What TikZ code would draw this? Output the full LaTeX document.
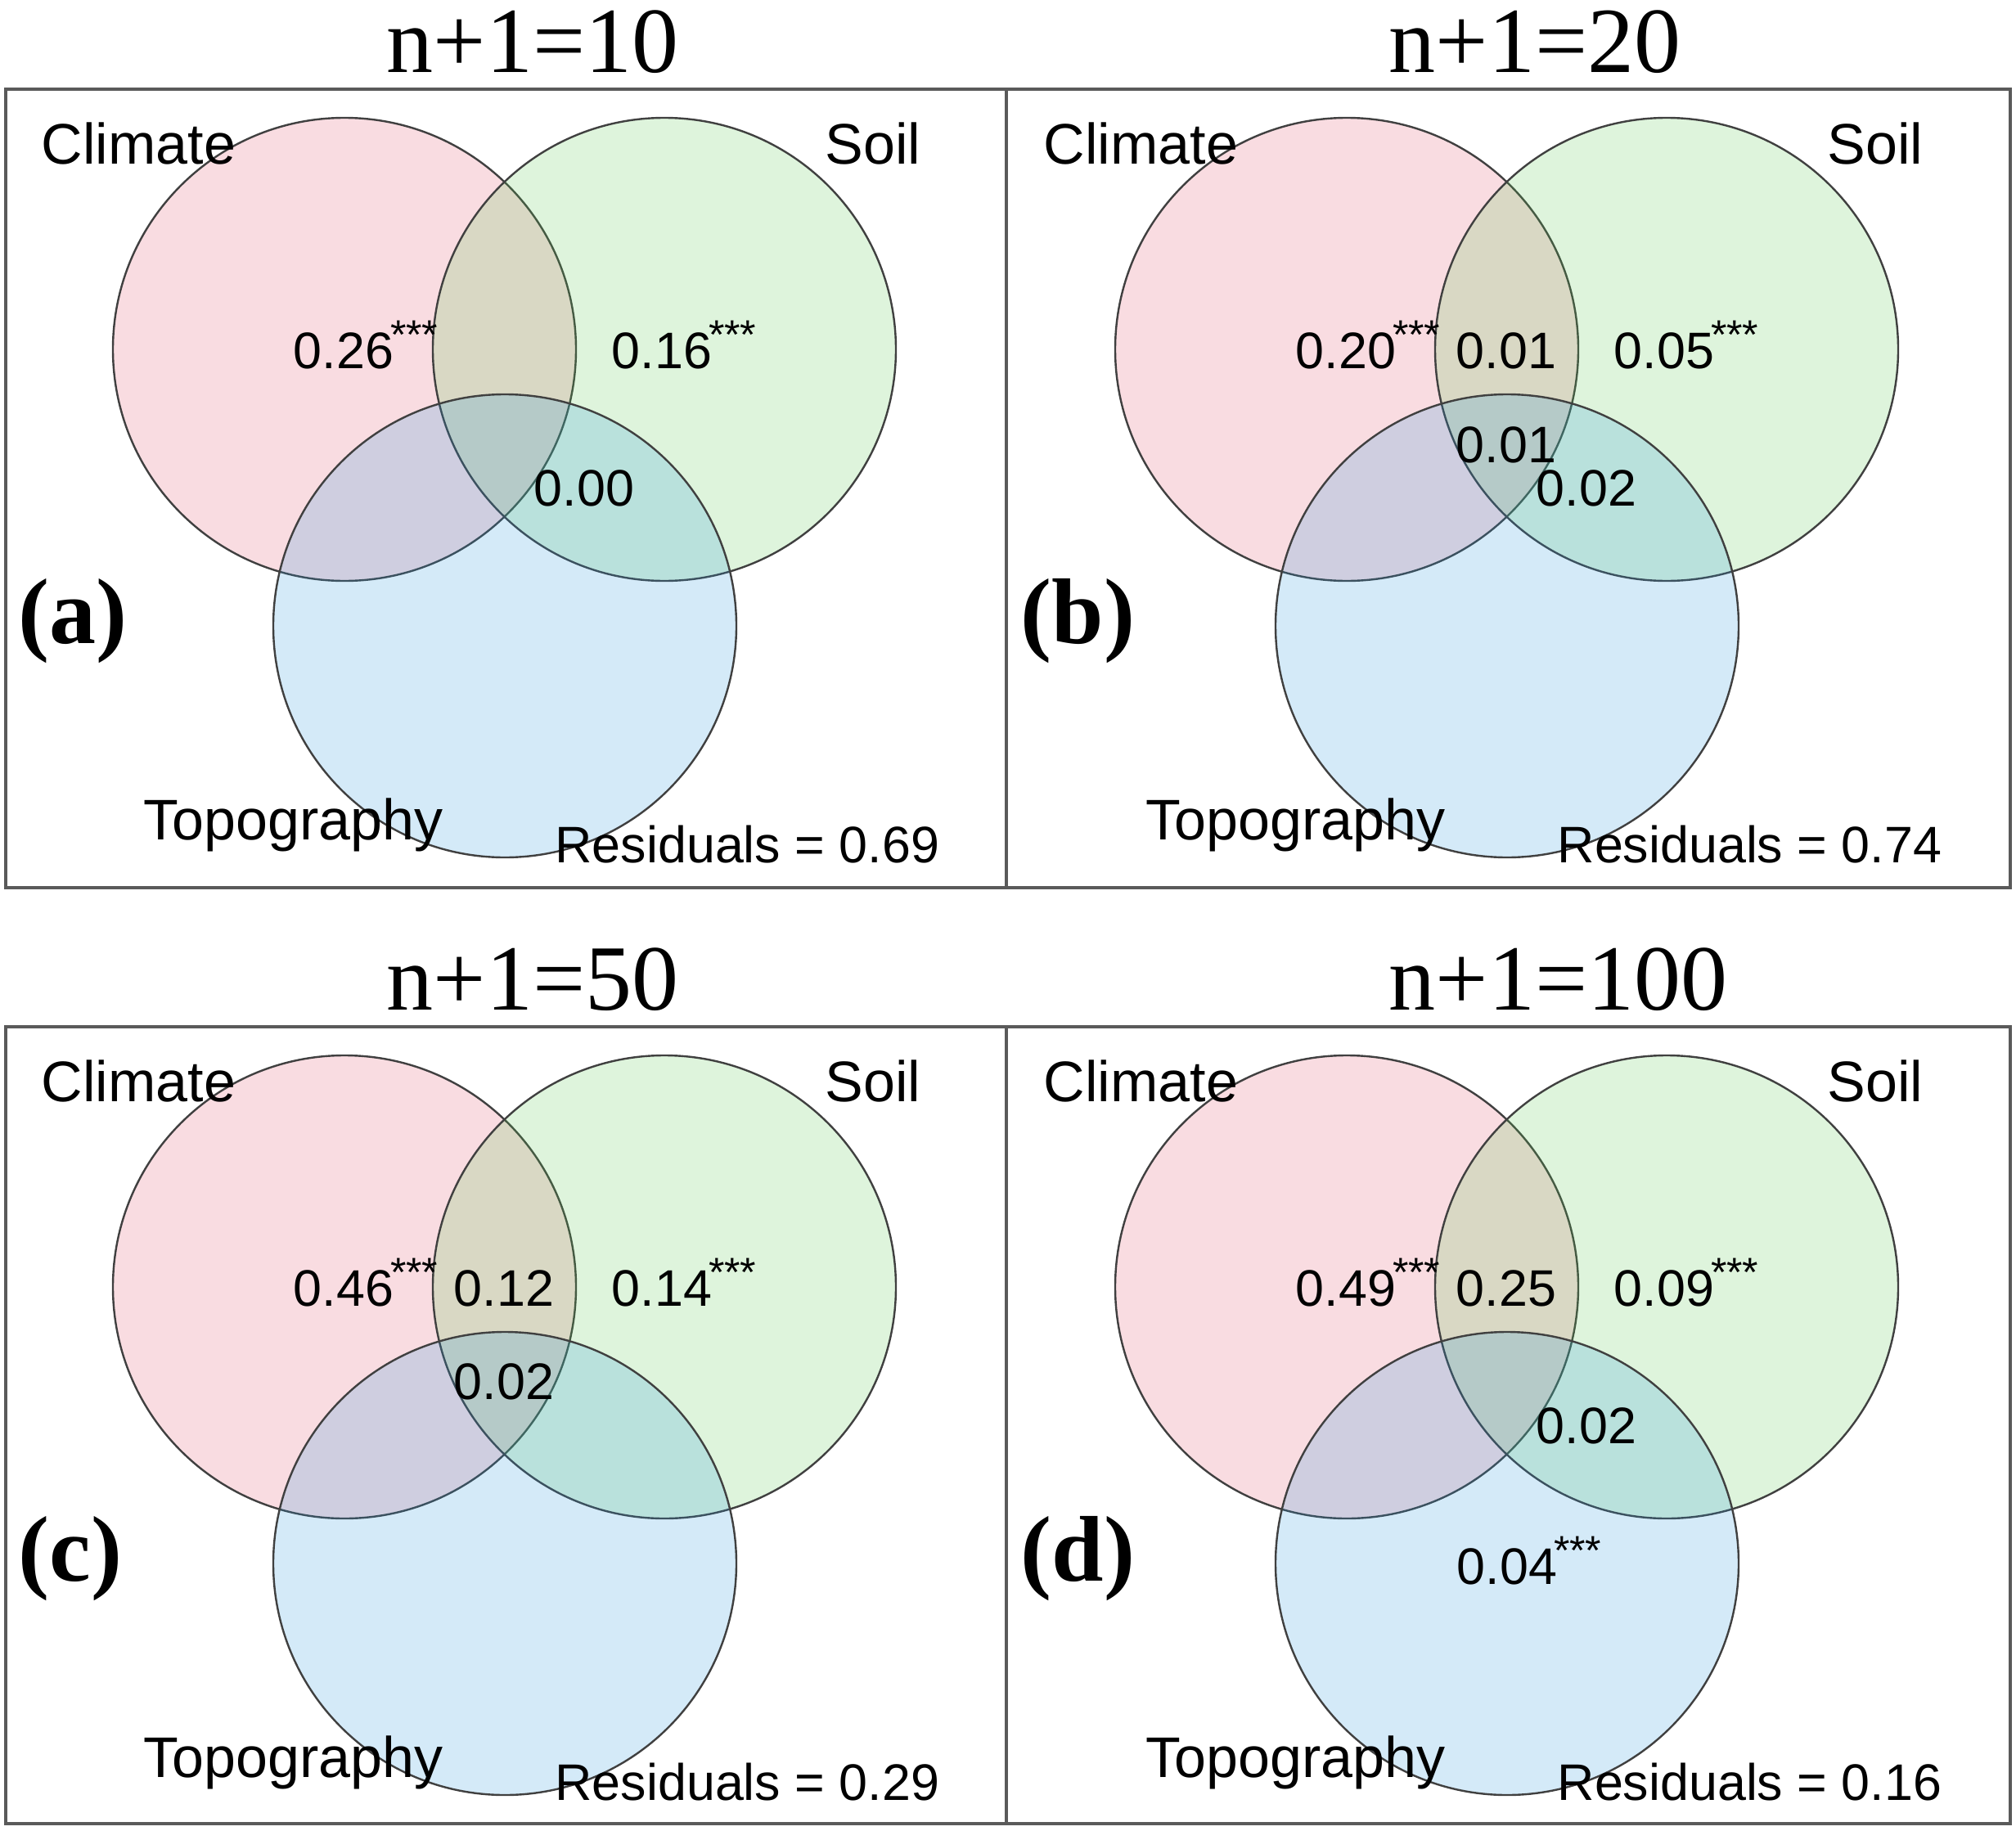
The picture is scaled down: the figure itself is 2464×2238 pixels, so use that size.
\documentclass[tikz,border=0pt]{standalone}
\usepackage{fontspec}
\usepackage{xcolor}
\usepackage{tikz}
\setmainfont{Liberation Serif}
\newfontfamily\arialfont{Liberation Sans}
\definecolor{CClim}{RGB}{225,80,105}
\definecolor{CSoil}{RGB}{89,200,80}
\definecolor{CTopo}{RGB}{40,150,220}
\definecolor{CFrame}{HTML}{5A5A5A}
\newcommand{\sig}{\kern-1pt\raisebox{6pt}{\fontsize{12.5}{12.5}\selectfont ***}}

\begin{document}
\begin{tikzpicture}[x=0.25pt,y=-0.25pt,inner sep=0pt,
  venn/.style={shape=circle, minimum size=141.5pt, draw=black!75, line width=0.6pt, fill opacity=0.2},
  lab/.style={font=\arialfont\fontsize{17.5}{19}\selectfont},
  num/.style={font=\arialfont\fontsize{15.7}{17}\selectfont},
  ttl/.style={font=\fontsize{28.5}{30}\selectfont},
  tag/.style={font=\bfseries\fontsize{28.5}{30}\selectfont}]
\useasboundingbox (0,0) rectangle (2464,2238);
\draw [CFrame, line width=1pt] (7,109) rectangle (1230,1085);
\draw [CFrame, line width=1pt] (1230,109) rectangle (2457,1085);
\draw [CFrame, line width=1pt] (7,1255) rectangle (1230,2229);
\draw [CFrame, line width=1pt] (1230,1255) rectangle (2457,2229);
% panel a
\node (a0) [venn, fill=CClim] at (421,427) {};
\node (a1) [venn, fill=CSoil] at (812,427) {};
\node (a2) [venn, fill=CTopo] at (617,765) {};
\node (a3) [lab, anchor=base west] at (50,200) {Climate};
\node (a4) [lab, anchor=base east] at (1126,200) {Soil};
\node (a5) [lab, anchor=base west] at (175,1026) {Topography};
\node (a6) [num, anchor=base east] at (1149,1054) {Residuals = 0.69};
\node (a7) [ttl, anchor=base west] at (472,88) {n+1=10};
\node (a8) [tag, anchor=base west] at (22,786) {(a)};
\node (a00) [num, anchor=base west] at (358,450) {0.26\sig};
\node (a11) [num, anchor=base west] at (747,450) {0.16\sig};
\node (a12) [num, anchor=base west] at (652,618) {0.00};
% panel b
\begin{scope}[shift={(1225,0)}]
\node (b0) [venn, fill=CClim] at (421,427) {};
\node (b1) [venn, fill=CSoil] at (812,427) {};
\node (b2) [venn, fill=CTopo] at (617,765) {};
\node (b3) [lab, anchor=base west] at (50,200) {Climate};
\node (b4) [lab, anchor=base east] at (1126,200) {Soil};
\node (b5) [lab, anchor=base west] at (175,1026) {Topography};
\node (b6) [num, anchor=base east] at (1149,1054) {Residuals = 0.74};
\node (b7) [ttl, anchor=base west] at (472,88) {n+1=20};
\node (b8) [tag, anchor=base west] at (22,786) {(b)};
\node (b00) [num, anchor=base west] at (358,450) {0.20\sig};
\node (b01) [num, anchor=base west] at (554,450) {0.01};
\node (b11) [num, anchor=base west] at (747,450) {0.05\sig};
\node (b012) [num, anchor=base west] at (554,565) {0.01};
\node (b12) [num, anchor=base west] at (652,618) {0.02};
\end{scope}
% panel c
\begin{scope}[shift={(0,1146)}]
\node (c0) [venn, fill=CClim] at (421,427) {};
\node (c1) [venn, fill=CSoil] at (812,427) {};
\node (c2) [venn, fill=CTopo] at (617,765) {};
\node (c3) [lab, anchor=base west] at (50,200) {Climate};
\node (c4) [lab, anchor=base east] at (1126,200) {Soil};
\node (c5) [lab, anchor=base west] at (175,1026) {Topography};
\node (c6) [num, anchor=base east] at (1149,1054) {Residuals = 0.29};
\node (c7) [ttl, anchor=base west] at (472,88) {n+1=50};
\node (c8) [tag, anchor=base west] at (22,786) {(c)};
\node (c00) [num, anchor=base west] at (358,450) {0.46\sig};
\node (c01) [num, anchor=base west] at (554,450) {0.12};
\node (c11) [num, anchor=base west] at (747,450) {0.14\sig};
\node (c012) [num, anchor=base west] at (554,564) {0.02};
\end{scope}
% panel d
\begin{scope}[shift={(1225,1146)}]
\node (d0) [venn, fill=CClim] at (421,427) {};
\node (d1) [venn, fill=CSoil] at (812,427) {};
\node (d2) [venn, fill=CTopo] at (617,765) {};
\node (d3) [lab, anchor=base west] at (50,200) {Climate};
\node (d4) [lab, anchor=base east] at (1126,200) {Soil};
\node (d5) [lab, anchor=base west] at (175,1026) {Topography};
\node (d6) [num, anchor=base east] at (1149,1054) {Residuals = 0.16};
\node (d7) [ttl, anchor=base west] at (472,88) {n+1=100};
\node (d8) [tag, anchor=base west] at (22,786) {(d)};
\node (d00) [num, anchor=base west] at (358,450) {0.49\sig};
\node (d01) [num, anchor=base west] at (554,450) {0.25};
\node (d11) [num, anchor=base west] at (747,450) {0.09\sig};
\node (d12) [num, anchor=base west] at (652,618) {0.02};
\node (d22) [num, anchor=base west] at (555,790) {0.04\sig};
\end{scope}
\end{tikzpicture}
\end{document}
